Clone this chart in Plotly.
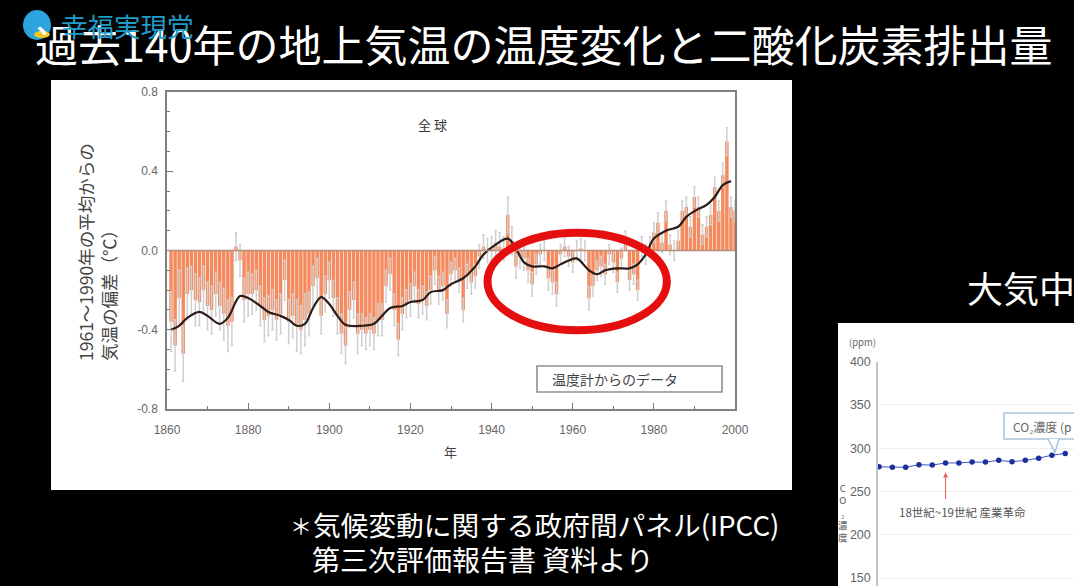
import plotly.graph_objects as go

W = 1074
H = 586
FONT = "Noto Sans CJK JP"

# temperature anomaly per year, 1861-2000
years = list(range(1861, 2001))
anomaly = [
    -0.36, -0.48, -0.24, -0.52, -0.22, -0.20, -0.25, -0.26, -0.20, -0.28,
    -0.30, -0.22, -0.28, -0.32, -0.38, -0.36, 0.02, -0.05, -0.25, -0.22,
    -0.22, -0.20, -0.28, -0.35, -0.33, -0.30, -0.35, -0.32, -0.15, -0.36,
    -0.33, -0.38, -0.40, -0.35, -0.32, -0.18, -0.14, -0.33, -0.22, -0.15,
    -0.24, -0.33, -0.42, -0.48, -0.30, -0.25, -0.42, -0.40, -0.42, -0.40,
    -0.42, -0.35, -0.35, -0.18, -0.12, -0.30, -0.45, -0.32, -0.27, -0.25,
    -0.18, -0.27, -0.25, -0.28, -0.20, -0.10, -0.20, -0.18, -0.32, -0.12,
    -0.10, -0.15, -0.30, -0.13, -0.16, -0.13, -0.03, 0.02, 0.00, 0.01,
    0.04, 0.02, 0.01, 0.18, 0.05, -0.08, -0.03, -0.04, -0.10, -0.17,
    -0.07, -0.02, 0.00, -0.14, -0.16, -0.22, -0.02, 0.02, -0.03, -0.06,
    0.00, 0.01, 0.00, -0.24, -0.18, -0.10, -0.08, -0.12, -0.02, -0.06,
    -0.16, -0.04, 0.05, -0.15, -0.12, -0.20, 0.02, -0.02, 0.02, 0.09,
    0.14, 0.04, 0.20, 0.03, 0.00, 0.05, 0.20, 0.22, 0.12, 0.27,
    0.22, 0.08, 0.12, 0.18, 0.32, 0.20, 0.38, 0.55, 0.22, 0.20,
]
anomaly_err = [
    0.15, 0.13, 0.14, 0.14, 0.13, 0.12, 0.13, 0.12, 0.12, 0.12,
    0.12, 0.11, 0.12, 0.13, 0.13, 0.12, 0.07, 0.08, 0.11, 0.11,
    0.10, 0.10, 0.10, 0.11, 0.10, 0.10, 0.10, 0.10, 0.10, 0.11,
    0.11, 0.13, 0.12, 0.13, 0.11, 0.10, 0.10, 0.09, 0.09, 0.09,
    0.09, 0.09, 0.10, 0.09, 0.09, 0.09, 0.10, 0.08, 0.08, 0.08,
    0.08, 0.08, 0.08, 0.08, 0.08, 0.08, 0.08, 0.08, 0.07, 0.08,
    0.07, 0.07, 0.07, 0.07, 0.07, 0.07, 0.07, 0.07, 0.07, 0.06,
    0.06, 0.06, 0.06, 0.06, 0.06, 0.06, 0.06, 0.06, 0.06, 0.06,
    0.06, 0.07, 0.06, 0.09, 0.07, 0.06, 0.06, 0.06, 0.06, 0.06,
    0.05, 0.05, 0.05, 0.06, 0.06, 0.06, 0.05, 0.05, 0.05, 0.05,
    0.05, 0.05, 0.05, 0.06, 0.05, 0.05, 0.05, 0.05, 0.05, 0.05,
    0.05, 0.05, 0.05, 0.05, 0.05, 0.05, 0.05, 0.05, 0.05, 0.05,
    0.05, 0.05, 0.05, 0.05, 0.05, 0.05, 0.05, 0.05, 0.05, 0.05,
    0.05, 0.05, 0.05, 0.05, 0.05, 0.05, 0.06, 0.07, 0.05, 0.05,
]

# smoothed curve
smooth_years = [1861, 1863, 1865, 1868, 1870, 1873, 1875, 1878, 1880, 1883, 1885, 1888,
                1890, 1892, 1894, 1896, 1898, 1900, 1902, 1904, 1908, 1911, 1913, 1915,
                1918, 1920, 1923, 1925, 1928, 1930, 1933, 1936, 1938, 1941, 1944, 1946,
                1948, 1950, 1953, 1955, 1957, 1959, 1961, 1964, 1966, 1968, 1971, 1974,
                1976, 1978, 1980, 1983, 1986, 1988, 1991, 1993, 1995, 1997, 1999]
smooth_vals = [-0.40, -0.38, -0.34, -0.31, -0.33, -0.37, -0.34, -0.23, -0.24, -0.28, -0.31, -0.33,
               -0.35, -0.38, -0.37, -0.29, -0.235, -0.27, -0.33, -0.375, -0.38, -0.37, -0.33, -0.29,
               -0.28, -0.26, -0.25, -0.21, -0.20, -0.17, -0.14, -0.08, -0.02, 0.03, 0.06, 0.01,
               -0.06, -0.08, -0.08, -0.09, -0.07, -0.05, -0.04, -0.10, -0.12, -0.10, -0.09, -0.09,
               -0.07, -0.02, 0.06, 0.10, 0.12, 0.17, 0.21, 0.23, 0.27, 0.33, 0.35]

x_ticks = [1860, 1880, 1900, 1920, 1940, 1960, 1980, 2000]
y_ticks = [-0.8, -0.4, 0.0, 0.4, 0.8]
y_labels = ["-0.8", "-0.4", "0.0", "0.4", "0.8"]

# CO2 panel, cut off by the right edge
co2_years = [1700, 1710, 1720, 1730, 1740, 1750, 1760, 1770, 1780, 1790, 1800, 1810, 1820, 1830, 1840]
co2_ppm = [278.5, 278, 278, 281, 280.5, 283, 283, 284, 284, 286, 284.5, 286, 288.5, 292, 294]
co2_ticks = [150, 200, 250, 300, 350, 400]


def px(x):
    return x / W


def py(y):
    return 1 - y / H


fig = go.Figure()

fig.add_trace(go.Bar(
    x=years, y=anomaly, width=0.85,
    marker=dict(color="#f48a5e", line_width=0),
    error_y=dict(type="data", array=anomaly_err, color="#cfcfcf", thickness=1.5, width=1.2),
    xaxis="x", yaxis="y",
))
fig.add_trace(go.Scatter(
    x=smooth_years, y=smooth_vals, mode="lines",
    line=dict(color="#2a1c18", width=2.2, shape="spline", smoothing=1),
    xaxis="x", yaxis="y",
))
fig.add_trace(go.Scatter(
    x=co2_years, y=co2_ppm, mode="lines+markers",
    line=dict(color="#3f55c0", width=1),
    marker=dict(color="#1c2f9c", size=5.5),
    xaxis="x2", yaxis="y2",
))

shapes = [
    # white panels
    dict(type="rect", xref="paper", yref="paper", x0=px(51), x1=px(792), y0=py(490), y1=py(80),
         fillcolor="white", line_width=0, layer="below"),
    dict(type="rect", xref="paper", yref="paper", x0=px(838), x1=1, y0=0, y1=py(323),
         fillcolor="white", line_width=0, layer="below"),
    # zero line
    dict(type="line", xref="x", yref="y", x0=1860, x1=2000, y0=0, y1=0,
         line=dict(color="#b98f7c", width=1.5)),
    # red ellipse
    dict(type="circle", xref="x", yref="y", x0=1939, x1=1983.2, y0=-0.403, y1=0.09,
         line=dict(color="#e60f0f", width=8)),
    # legend box
    dict(type="rect", xref="paper", yref="paper", x0=px(537), x1=px(722), y0=py(392), y1=py(366),
         line=dict(color="#909090", width=1.6), fillcolor="white"),
    # CO2 callout
    dict(type="rect", xref="paper", yref="paper", x0=px(1004), x1=px(1076), y0=py(439), y1=py(413),
         line=dict(color="#a9c3dc", width=1.5), fillcolor="white"),
    dict(type="path", xref="paper", yref="paper",
         path=f"M {px(1048)} {py(439)} L {px(1055)} {py(452)} L {px(1059)} {py(439)}",
         line=dict(color="#a9c3dc", width=1.5), fillcolor="white"),
    # logo
    dict(type="circle", xref="paper", yref="paper", x0=px(23), x1=px(51), y0=py(40), y1=py(10),
         fillcolor="#2ba3dc", line_width=0),
    dict(type="circle", xref="paper", yref="paper", x0=px(34), x1=px(50), y0=py(38), y1=py(31),
         fillcolor="#f2c521", line_width=0),
]


def label(x, y, text, size, color="white", anchor="left", **kw):
    return dict(x=px(x), y=py(y), xref="paper", yref="paper", text=text, showarrow=False,
                xanchor=anchor, yanchor="middle", font=dict(family=FONT, size=size, color=color), **kw)


annotations = [
    label(33, 43, "過去140年の地上気温の温度変化と二酸化炭素排出量", 43),
    label(59, 26, "幸福実現党", 26.5, color="#1f9cc9"),
    label(965, 287, "大気中", 36),
    label(288, 524, "＊", 22),
    label(311, 524, "気候変動に関する政府間パネル(IPCC)", 27.7),
    label(310, 559, "第三次評価報告書 資料より", 28),
    label(432, 124, "全 球", 13, color="#333333", anchor="center"),
    label(451, 451, "年", 13, color="#444444", anchor="center"),
    label(97, 252, "1961～1990年の平均からの<br>気温の偏差（℃）", 17.5, color="#444444",
          anchor="center", textangle=-90, align="left"),
    label(550, 379, "温度計からのデータ", 14, color="#444444"),
    label(1011, 426, "CO₂濃度 (p", 12, color="#666666"),
    label(897, 512, "18世紀~19世紀 産業革命", 11.5, color="#555555"),
    label(862, 342, "(ppm)", 9.5, color="#666666", anchor="center"),
    label(843, 512, "C<br>O<br>₂<br>濃<br>度", 9.5, color="#555555", anchor="center"),
    # arrow to the industrial revolution point
    dict(x=1750, y=272, xref="x2", yref="y2", ax=0, ay=28, text="", showarrow=True,
         arrowhead=2, arrowsize=1, arrowwidth=1, arrowcolor="#e0605a"),
]

fig.update_layout(
    width=W, height=H,
    margin=dict(l=0, r=0, t=0, b=0, autoexpand=False),
    paper_bgcolor="black",
    plot_bgcolor="rgba(0,0,0,0)",
    showlegend=False,
    shapes=shapes,
    annotations=annotations,
    xaxis=dict(
        domain=[px(167), px(735)], range=[1860, 2000], anchor="y",
        tickvals=x_ticks, ticks="inside", ticklen=6, tickcolor="#777777",
        minor=dict(dtick=10, ticks="inside", ticklen=3, tickcolor="#777777"),
        showgrid=False, zeroline=False, showline=True, linecolor="#808080", linewidth=1.5, mirror=True,
        ticklabelstandoff=9, tickfont=dict(family="Liberation Sans", size=12, color="#666666"),
    ),
    yaxis=dict(
        domain=[py(409), py(92)], range=[-0.8, 0.8], anchor="x",
        tickvals=y_ticks, ticktext=y_labels, ticks="inside", ticklen=6, tickcolor="#777777",
        minor=dict(dtick=0.1, ticks="inside", ticklen=3, tickcolor="#777777"),
        showgrid=False, zeroline=False, showline=True, linecolor="#808080", linewidth=1.5, mirror=True,
        ticklabelstandoff=5, tickfont=dict(family="Liberation Sans", size=12, color="#666666"),
    ),
    xaxis2=dict(
        domain=[px(878), 1], range=[1699.2, 1846.6], anchor="y2",
        showticklabels=False, ticks="", showgrid=False, zeroline=False, showline=False,
    ),
    yaxis2=dict(
        domain=[0, py(361.7)], range=[140.8, 400], anchor="x2",
        tickvals=co2_ticks, ticks="", showgrid=True, gridcolor="#eeeeee", gridwidth=1,
        zeroline=False, showline=True, linecolor="#c4c4c4", linewidth=1.5,
        ticklabelstandoff=3, tickfont=dict(family="Liberation Sans", size=12.5, color="#666666"),
    ),
)

fig.write_html(
    "out.html",
    config={"displayModeBar": False},
    post_script="document.body.style.margin='0';document.body.style.background='#000';",
)
